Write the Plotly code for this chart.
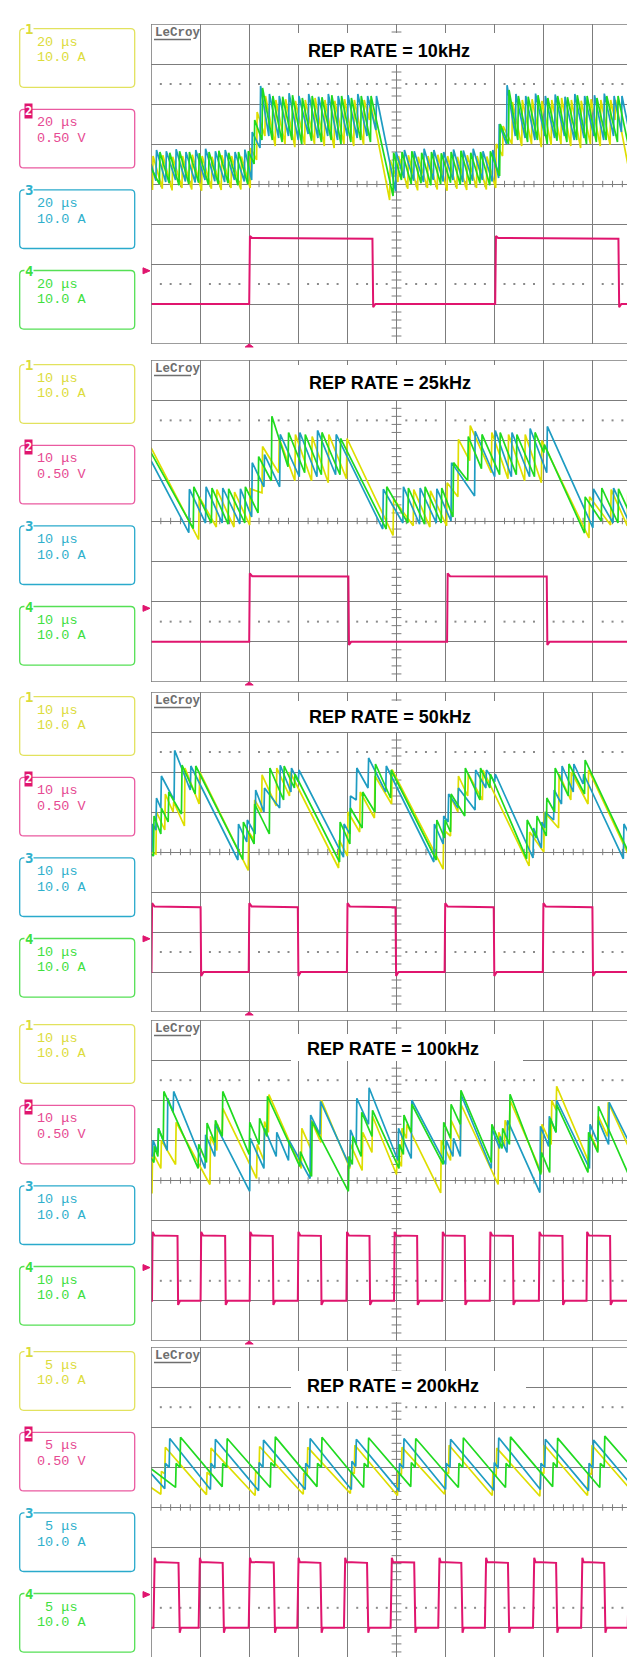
import plotly.graph_objects as go

W, H = 635, 1657

# ---------------- text content ----------------
TITLES = ["REP RATE = 10kHz", "REP RATE = 25kHz", "REP RATE = 50kHz",
          "REP RATE = 100kHz", "REP RATE = 200kHz"]
TIMEBASE = ["20 μs", "10 μs", "10 μs", "10 μs", "\u00a05 μs"]
CH_NAMES = ["1", "2", "3", "4"]
CH_SCALE = ["10.0 A", "0.50 V", "10.0 A", "10.0 A"]

# ---------------- waveform data (divisions) ----------------
# each event: (time_div, level_before_step, level_after_step)

# Panel 1 : 10 kHz, 20 us/div
P1_YEL = [(0.0,0.1,0.1),(0.03,-0.15,0.7),(0.23,-0.12,0.72),(0.43,-0.16,0.68),(0.63,-0.1,0.7),(0.83,-0.14,0.73),
          (1.03,-0.17,0.7),(1.23,-0.12,0.68),(1.43,-0.15,0.72),(1.63,-0.1,0.7),(1.83,-0.14,0.69),(2.02,-0.1,0.9),
          (2.15,0.6,1.8),(2.32,1.2,2.2),(2.53,0.95,2.1),(2.73,1.0,2.12),(2.93,0.92,2.08),(3.13,0.98,2.1),
          (3.33,1.0,2.15),(3.53,0.95,2.1),(3.73,0.9,2.08),(3.93,1.0,2.12),(4.13,0.95,2.1),(4.33,0.98,2.1),
          (4.45,1.6,2.1),(4.86,-0.4,0.6),(5.03,0.05,0.7),(5.23,-0.12,0.72),(5.43,-0.16,0.68),(5.63,-0.1,0.7),
          (5.83,-0.14,0.73),(6.03,-0.17,0.7),(6.23,-0.12,0.68),(6.43,-0.15,0.72),(6.63,-0.1,0.7),(6.83,-0.14,0.69),
          (7.02,-0.1,1.0),(7.16,0.7,1.45),(7.35,1.0,2.05),(7.55,0.95,2.1),(7.75,1.0,2.12),(7.95,0.92,2.08),
          (8.15,0.98,2.1),(8.35,1.0,2.15),(8.55,0.95,2.1),(8.75,0.9,2.08),(8.95,1.0,2.12),(9.15,0.95,2.1),
          (9.35,0.98,2.1),(9.45,1.6,2.1),(9.85,-0.4,0.3),(10.0,0.0,0.0)]
P1_CYN = [(0.0,0.5,0.5),(0.1,0.08,0.85),(0.3,0.05,0.82),(0.5,0.1,0.87),(0.7,0.06,0.8),(0.9,0.04,0.85),
          (1.1,0.1,0.88),(1.3,0.07,0.82),(1.5,0.05,0.85),(1.7,0.1,0.8),(1.9,0.06,0.86),(2.05,0.1,1.3),
          (2.22,0.9,2.45),(2.4,1.2,2.25),(2.6,1.15,2.2),(2.8,1.2,2.27),(3.0,1.1,2.2),(3.2,1.25,2.25),
          (3.4,1.15,2.18),(3.6,1.2,2.25),(3.8,1.1,2.2),(4.0,1.2,2.22),(4.2,1.15,2.25),(4.4,1.2,2.2),
          (4.58,1.35,2.2),(4.98,-0.18,0.8),(5.15,0.15,0.85),(5.35,0.08,0.82),(5.55,0.05,0.88),(5.75,0.1,0.85),
          (5.95,0.06,0.8),(6.15,0.1,0.86),(6.35,0.05,0.84),(6.55,0.08,0.88),(6.75,0.1,0.82),(6.95,0.06,0.85),
          (7.08,0.15,1.5),(7.24,1.0,2.47),(7.42,1.2,2.25),(7.62,1.15,2.2),(7.82,1.1,2.26),(8.02,1.2,2.2),
          (8.22,1.15,2.24),(8.42,1.2,2.18),(8.62,1.1,2.25),(8.82,1.15,2.2),(9.02,1.2,2.22),(9.22,1.1,2.26),
          (9.42,1.2,2.2),(9.58,1.3,2.2),(9.98,-0.15,0.6),(10.0,0.55,0.55)]
P1_GRN = [(0.0,0.4,0.4),(0.17,0.0,0.8),(0.37,0.02,0.78),(0.57,-0.03,0.82),(0.77,0.0,0.8),(0.97,0.03,0.77),
          (1.17,-0.02,0.8),(1.37,0.0,0.83),(1.57,0.02,0.78),(1.77,-0.03,0.8),(1.97,0.0,0.82),(2.1,0.5,1.6),
          (2.26,1.1,2.4),(2.47,1.1,2.2),(2.67,1.05,2.18),(2.87,1.1,2.22),(3.07,1.0,2.15),(3.27,1.08,2.2),
          (3.47,1.05,2.17),(3.67,1.1,2.22),(3.87,1.0,2.2),(4.07,1.05,2.15),(4.27,1.1,2.2),(4.47,1.05,2.2),
          (4.93,-0.3,0.78),(5.1,0.1,0.8),(5.3,0.0,0.82),(5.5,0.02,0.78),(5.7,-0.03,0.8),(5.9,0.0,0.77),
          (6.1,0.03,0.8),(6.3,-0.02,0.83),(6.5,0.0,0.78),(6.7,0.02,0.8),(6.9,-0.03,0.82),(7.1,0.2,1.5),
          (7.28,1.0,2.35),(7.47,1.1,2.2),(7.67,1.05,2.18),(7.87,1.1,2.22),(8.07,1.0,2.15),(8.27,1.08,2.2),
          (8.47,1.05,2.17),(8.67,1.1,2.22),(8.87,1.0,2.2),(9.07,1.05,2.15),(9.27,1.1,2.2),(9.5,1.05,2.2),
          (9.93,-0.25,0.5),(10.0,0.3,0.3)]
P1_MAG = [(0.0,-3.0,-3.0),(2.0,-3.0,-1.3),(2.06,-1.35,-1.35),(4.51,-1.37,-3.08),(4.57,-3.0,-3.0),
          (7.01,-3.0,-1.3),(7.07,-1.35,-1.35),(9.52,-1.37,-3.08),(9.58,-3.0,-3.0),(10.0,-3.0,-3.0)]

# Panel 2 : 25 kHz, 10 us/div
P2_YEL = [(0.0,1.82,1.82),(0.97,-0.46,0.6),(1.33,-0.15,0.78),(1.69,-0.15,0.72),(2.01,-0.1,0.8),(2.26,0.7,1.85),
          (2.6,1.2,2.05),(2.93,1.0,2.15),(3.27,1.0,2.1),(3.61,0.95,2.15),(3.98,1.05,2.05),(4.93,-0.36,0.55),
          (5.34,-0.12,0.78),(5.68,-0.15,0.75),(6.02,-0.12,0.95),(6.25,0.6,2.03),(6.49,1.5,2.37),(6.93,1.2,2.2),
          (7.27,1.05,2.15),(7.61,1.0,2.15),(7.95,0.95,2.0),(8.92,-0.42,0.6),(9.36,-0.1,0.78),(9.7,-0.12,0.75),
          (10.0,-0.13,-0.13)]
P2_CYN = [(0.0,1.5,1.5),(0.77,-0.29,0.79),(1.11,-0.05,0.85),(1.45,-0.05,0.82),(1.81,-0.07,0.8),(2.05,0.1,1.45),
          (2.3,0.85,1.65),(2.62,0.85,2.15),(3.02,1.1,2.2),(3.38,1.1,2.25),(3.76,1.15,2.15),(4.72,-0.2,0.79),
          (5.13,-0.05,0.85),(5.47,-0.08,0.82),(5.81,-0.05,0.8),(6.11,0.0,1.45),(6.59,0.62,2.23),(7.0,1.1,2.25),
          (7.34,1.1,2.2),(7.71,1.1,2.3),(8.06,1.2,2.35),(9.0,-0.17,0.8),(9.41,-0.05,0.82),(9.75,-0.07,0.85),
          (10.0,0.2,0.2)]
P2_GRN = [(0.0,1.7,1.7),(0.86,-0.19,0.85),(1.23,-0.05,0.82),(1.57,-0.08,0.8),(1.91,-0.05,0.85),(2.18,0.2,1.6),
          (2.45,1.0,2.6),(2.79,1.35,2.2),(3.13,1.2,2.15),(3.47,1.15,2.2),(3.85,1.15,2.05),(4.79,-0.2,0.85),
          (5.23,-0.05,0.82),(5.57,-0.08,0.85),(5.91,-0.05,0.82),(6.15,0.1,1.45),(6.45,1.0,2.1),(6.73,1.3,2.15),
          (7.1,1.15,2.2),(7.44,1.15,2.15),(7.81,1.1,2.2),(8.0,1.7,1.9),(8.83,-0.3,0.6),(9.17,0.0,0.82),
          (9.51,-0.05,0.8),(9.85,-0.08,0.82),(10.0,0.5,0.5)]
P2_MAG = [(0.0,-3.0,-3.0),(2.0,-3.0,-1.3),(2.06,-1.37,-1.37),(4.02,-1.38,-3.08),(4.08,-3.0,-3.0),
          (6.03,-3.0,-1.3),(6.09,-1.37,-1.37),(8.06,-1.38,-3.08),(8.12,-3.0,-3.0),(10.0,-3.0,-3.0)]

# Panel 3 : 50 kHz, 10 us/div
P3_YEL = [(0.0,0.0,0.0),(0.1,-0.05,1.0),(0.28,0.55,1.45),(0.45,1.0,1.25),(0.68,0.65,2.1),(0.98,1.2,2.0),
          (1.98,-0.46,0.5),(2.1,0.3,1.3),(2.25,1.0,1.93),(2.55,1.15,2.1),(2.82,1.4,2.0),(3.82,-0.4,0.3),
          (4.0,-0.1,1.0),(4.25,0.5,1.5),(4.55,0.85,1.9),(4.9,1.2,2.06),(5.95,-0.43,0.55),(6.1,0.4,1.35),
          (6.25,1.0,1.9),(6.45,1.4,1.95),(6.75,1.3,2.05),(7.7,-0.35,0.5),(8.0,0.0,1.0),(8.3,0.6,1.95),
          (8.55,1.3,2.0),(8.9,1.2,2.05),(9.85,-0.4,0.6),(10.0,0.3,0.3)]
P3_CYN = [(0.0,0.05,0.05),(0.02,0.0,0.7),(0.1,0.55,1.35),(0.2,1.1,1.9),(0.47,1.3,2.54),(0.8,1.55,2.15),
          (1.77,-0.2,0.7),(1.95,0.25,0.8),(2.12,0.45,1.55),(2.3,1.0,1.6),(2.62,1.1,2.17),(2.85,1.5,2.1),
          (3.0,1.75,2.05),(3.92,-0.13,0.7),(4.05,0.45,1.4),(4.18,1.3,2.1),(4.42,1.6,2.35),(4.78,1.5,2.15),
          (5.76,-0.25,0.7),(5.95,0.2,0.9),(6.05,0.75,1.45),(6.25,1.1,1.6),(6.6,1.05,2.05),(6.82,1.6,2.05),
          (7.0,1.75,1.95),(7.78,-0.15,0.6),(7.95,0.1,0.75),(8.02,0.6,1.0),(8.2,0.8,1.55),(8.36,1.2,2.15),
          (8.6,1.5,2.2),(8.8,1.7,1.95),(9.62,-0.17,0.7),(9.8,0.3,0.75),(10.0,0.35,0.35)]
P3_GRN = [(0.0,-0.05,-0.05),(0.05,-0.1,0.9),(0.2,0.45,1.1),(0.35,0.75,1.5),(0.62,0.95,2.17),(0.9,1.45,2.15),
          (1.87,-0.19,0.75),(2.1,0.2,1.2),(2.41,0.45,2.1),(2.7,1.3,2.15),(2.92,1.6,1.95),(3.84,-0.25,0.75),
          (4.05,0.2,1.1),(4.3,0.6,1.5),(4.56,1.0,2.2),(4.88,1.35,2.05),(5.81,-0.2,0.8),(5.98,0.35,0.8),
          (6.1,0.5,1.45),(6.39,0.9,2.1),(6.7,1.3,2.1),(6.9,1.6,1.95),(7.65,-0.17,0.8),(7.85,0.35,0.9),
          (8.05,0.4,1.35),(8.22,1.0,2.1),(8.5,1.4,2.2),(8.83,1.45,2.3),(9.78,-0.15,0.85),(10.0,0.25,0.25)]
P3_MAG = [(0.0,-3.0,-3.0),(0.01,-3.0,-1.28),(0.07,-1.36,-1.36),(1.01,-1.38,-3.1),(1.07,-3.0,-3.0),
          (1.99,-3.0,-1.28),(2.05,-1.36,-1.36),(2.99,-1.38,-3.1),(3.05,-3.0,-3.0),(3.99,-3.0,-1.28),
          (4.05,-1.36,-1.36),(4.98,-1.38,-3.1),(5.04,-3.0,-3.0),(5.98,-3.0,-1.28),(6.04,-1.36,-1.36),
          (6.98,-1.38,-3.1),(7.04,-3.0,-3.0),(7.98,-3.0,-1.28),(8.04,-1.36,-1.36),(8.99,-1.38,-3.1),
          (9.05,-3.0,-3.0),(9.97,-3.0,-1.28),(10.0,-1.33,-1.33)]

# Panel 4 : 100 kHz, 10 us/div
P4_YEL = [(0.0,-0.3,-0.3),(0.02,-0.3,0.7),(0.2,0.3,1.0),(0.5,0.4,1.45),(1.2,-0.1,1.1),(1.34,0.75,1.4),
          (1.45,1.1,1.8),(2.15,0.05,0.9),(2.3,0.5,1.47),(2.39,1.2,2.14),(3.06,0.3,1.3),(3.25,0.8,1.5),
          (3.46,0.95,2.0),(4.05,0.3,0.9),(4.3,0.25,1.2),(4.5,0.7,1.6),(5.0,0.15,0.6),(5.1,0.35,1.3),
          (5.2,1.05,1.4),(5.9,-0.31,1.0),(6.1,0.5,1.5),(6.3,1.0,1.9),(7.07,-0.1,1.2),(7.2,0.85,1.5),
          (7.3,1.25,2.0),(7.95,0.2,1.4),(8.15,0.9,2.0),(8.25,1.75,2.35),(8.92,0.45,1.2),(9.1,0.75,1.6),
          (9.3,1.1,1.95),(10.0,0.1,0.1)]
P4_CYN = [(0.0,0.64,0.64),(0.03,0.6,1.0),(0.14,0.7,1.3),(0.33,0.75,2.05),(0.45,1.7,2.22),(1.1,0.3,1.14),
          (1.3,0.6,1.4),(2.01,-0.27,1.05),(2.3,0.3,1.3),(2.55,0.6,1.2),(2.8,0.5,1.0),(3.24,0.05,1.63),
          (3.44,1.15,1.97),(4.05,0.35,1.26),(4.18,0.9,2.05),(4.43,1.4,2.31),(5.03,0.5,1.3),(5.3,0.55,2.0),
          (6.0,0.4,1.0),(6.15,0.6,1.05),(6.3,0.6,2.15),(6.93,0.3,1.3),(7.1,0.8,1.1),(7.25,0.7,1.5),
          (7.92,-0.3,1.35),(8.1,0.85,1.6),(8.25,1.2,2.0),(8.93,0.3,1.4),(9.1,0.95,1.5),(9.32,0.9,1.95),
          (10.0,0.3,0.3)]
P4_GRN = [(0.0,0.56,0.56),(0.06,0.45,0.85),(0.14,0.6,1.3),(0.25,1.0,2.22),(0.96,0.3,0.9),(1.13,0.45,1.43),
          (1.3,0.95,1.5),(1.45,1.1,2.22),(2.0,0.65,1.45),(2.2,0.9,1.55),(2.36,1.1,2.1),(3.03,0.35,0.72),
          (3.27,0.1,1.47),(4.02,-0.27,0.6),(4.1,0.4,1.1),(4.28,0.6,1.7),(4.5,1.1,1.75),(5.05,0.3,0.9),
          (5.14,0.65,1.63),(5.3,1.2,1.9),(5.95,0.4,1.45),(6.1,1.05,1.9),(6.3,1.4,2.25),(6.93,0.45,1.4),
          (7.15,0.8,1.3),(7.3,0.9,2.15),(7.94,0.15,0.7),(8.12,0.2,1.55),(8.25,1.2,1.89),(8.9,0.2,1.2),
          (9.1,0.7,1.85),(9.85,-0.2,0.8),(9.95,0.55,1.4),(10.0,1.3,1.3)]
P4_MAG = [(0.0,-3.0,-3.0),(0.02,-3.0,-1.28),(0.07,-1.37,-1.37),(0.54,-1.38,-3.1),(0.59,-3.0,-3.0),
          (1.01,-3.0,-1.28),(1.06,-1.37,-1.37),(1.51,-1.38,-3.1),(1.56,-3.0,-3.0),(2.01,-3.0,-1.28),
          (2.06,-1.37,-1.37),(2.48,-1.38,-3.1),(2.53,-3.0,-3.0),(2.99,-3.0,-1.28),(3.04,-1.37,-1.37),
          (3.46,-1.38,-3.1),(3.51,-3.0,-3.0),(3.98,-3.0,-1.28),(4.03,-1.37,-1.37),(4.45,-1.38,-3.1),
          (4.5,-3.0,-3.0),(4.95,-3.0,-1.28),(5.0,-1.37,-1.37),(5.42,-1.38,-3.1),(5.47,-3.0,-3.0),
          (5.93,-3.0,-1.28),(5.98,-1.37,-1.37),(6.39,-1.38,-3.1),(6.44,-3.0,-3.0),(6.9,-3.0,-1.28),
          (6.95,-1.37,-1.37),(7.37,-1.38,-3.1),(7.42,-3.0,-3.0),(7.9,-3.0,-1.28),(7.95,-1.37,-1.37),
          (8.38,-1.38,-3.1),(8.43,-3.0,-3.0),(8.87,-3.0,-1.28),(8.92,-1.37,-1.37),(9.35,-1.38,-3.1),
          (9.4,-3.0,-3.0),(9.85,-3.0,-1.28),(9.9,-1.37,-1.37),(10.0,-1.37,-1.37)]

# Panel 5 : 200 kHz, 5 us/div
P5_YEL = [(0.0,0.5,0.5),(0.2,0.33,0.9),(0.28,0.84,1.5),(1.13,0.32,0.88),(1.21,0.8,1.48),(2.12,0.3,0.9),
          (2.2,0.83,1.52),(3.1,0.33,0.86),(3.18,0.8,1.5),(4.06,0.35,0.9),(4.14,0.84,1.55),(5.02,0.3,0.88),
          (5.1,0.82,1.5),(5.98,0.33,0.9),(6.06,0.84,1.55),(6.95,0.3,0.85),(7.03,0.8,1.48),(7.92,0.28,0.9),
          (8.0,0.84,1.55),(8.89,0.3,0.88),(8.97,0.82,1.55),(9.85,0.33,0.9),(9.93,0.84,1.5),(10.0,1.45,1.45)]
P5_CYN = [(0.0,0.85,0.85),(0.28,0.47,1.1),(0.37,1.0,1.72),(1.21,0.45,1.1),(1.3,0.98,1.7),(2.19,0.42,1.12),
          (2.28,1.0,1.68),(3.14,0.45,1.1),(3.23,0.98,1.72),(4.08,0.45,1.15),(4.17,1.02,1.7),(5.05,0.42,1.1),
          (5.14,0.98,1.72),(6.0,0.45,1.1),(6.09,1.0,1.7),(6.98,0.43,1.12),(7.07,0.98,1.74),(7.93,0.45,1.1),
          (8.02,1.0,1.7),(8.91,0.42,1.1),(9.0,0.98,1.68),(9.86,0.45,1.1),(9.95,1.0,1.62),(10.0,1.55,1.55)]
P5_GRN = [(0.0,0.97,0.97),(0.5,0.5,1.1),(0.59,1.0,1.75),(1.45,0.52,1.1),(1.54,1.0,1.72),(2.43,0.5,1.12),
          (2.52,1.02,1.76),(3.38,0.52,1.1),(3.47,1.0,1.75),(4.33,0.5,1.1),(4.42,1.0,1.74),(5.29,0.52,1.12),
          (5.38,1.0,1.72),(6.26,0.5,1.1),(6.35,1.0,1.74),(7.22,0.5,1.1),(7.31,1.0,1.76),(8.18,0.52,1.12),
          (8.27,1.0,1.73),(9.14,0.5,1.1),(9.23,1.0,1.78),(10.0,0.72,0.72)]
P5_MAG = [(0.0,-3.0,-3.0),(0.05,-3.0,-1.25),(0.1,-1.36,-1.36),(0.56,-1.38,-3.12),(0.61,-3.0,-3.0),
          (0.97,-3.0,-1.25),(1.02,-1.36,-1.36),(1.46,-1.38,-3.12),(1.51,-3.0,-3.0),(1.99,-3.0,-1.25),
          (2.04,-1.36,-1.36),(2.5,-1.37,-3.12),(2.55,-3.0,-3.0),(2.98,-3.0,-1.25),(3.03,-1.36,-1.36),
          (3.45,-1.38,-3.12),(3.5,-3.0,-3.0),(3.93,-3.0,-1.25),(3.98,-1.36,-1.36),(4.4,-1.38,-3.12),
          (4.45,-3.0,-3.0),(4.88,-3.0,-1.25),(4.93,-1.36,-1.36),(5.36,-1.37,-3.12),(5.41,-3.0,-3.0),
          (5.85,-3.0,-1.25),(5.9,-1.36,-1.36),(6.32,-1.38,-3.12),(6.37,-3.0,-3.0),(6.8,-3.0,-1.25),
          (6.85,-1.36,-1.36),(7.27,-1.38,-3.12),(7.32,-3.0,-3.0),(7.78,-3.0,-1.25),(7.83,-1.36,-1.36),
          (8.25,-1.38,-3.12),(8.3,-3.0,-3.0),(8.76,-3.0,-1.25),(8.81,-1.36,-1.36),(9.23,-1.38,-3.12),
          (9.28,-3.0,-3.0),(9.71,-3.0,-1.25),(9.76,-1.36,-1.36),(10.0,-1.37,-1.37)]

WAVES = [(P1_YEL, P1_MAG, P1_CYN, P1_GRN), (P2_YEL, P2_MAG, P2_CYN, P2_GRN),
         (P3_YEL, P3_MAG, P3_CYN, P3_GRN), (P4_YEL, P4_MAG, P4_CYN, P4_GRN),
         (P5_YEL, P5_MAG, P5_CYN, P5_GRN)]

# ---------------- style / geometry ----------------
C_TRACE = ["#dede00", "#e0156e", "#1e9cc2", "#20da20"]
C_TEXT = ["#dcdc3c", "#e64a92", "#2fb0cc", "#3fe03f"]
C_BOX = ["#e2e25e", "#ea5aa0", "#2aaacc", "#55e055"]
GRID = "#7c7c7c"
STEP = [0.015, 0.012, 0.012, 0.012, 0.025]

PANELS = [(16, 336), (352, 674), (684, 1004), (1012, 1333), (1339, 1660)]
X0, X1 = 143, 634
TBOX = [(283, 25, 505, 56, 298, 42.7), (290, 357, 487, 392, 299, 375),
        (285, 693, 499, 724, 299, 709.3), (283, 1026, 515, 1053, 297, 1041),
        (283, 1363, 518, 1394, 297, 1378)]


def px(x):
    return x / W


def py(y):
    return 1 - y / H


def build(events, dx):
    xs, ys = [], []
    for t, lo, hi in events:
        xs.append(t)
        ys.append(lo)
        if hi != lo:
            xs.append(t + dx)
            ys.append(hi)
    return xs, ys


def rrect(x0, y0, x1, y1, r):
    return (f"M {px(x0+r)},{py(y0)} L {px(x1-r)},{py(y0)} Q {px(x1)},{py(y0)} {px(x1)},{py(y0+r)} "
            f"L {px(x1)},{py(y1-r)} Q {px(x1)},{py(y1)} {px(x1-r)},{py(y1)} "
            f"L {px(x0+r)},{py(y1)} Q {px(x0)},{py(y1)} {px(x0)},{py(y1-r)} "
            f"L {px(x0)},{py(y0+r)} Q {px(x0)},{py(y0)} {px(x0+r)},{py(y0)} Z")


fig = go.Figure()
layout = dict(width=W, height=H, margin=dict(l=0, r=0, t=0, b=0),
              paper_bgcolor="white", plot_bgcolor="white", showlegend=False)
shapes, annotations = [], []

# center-axis minor ticks and dotted reference rows (graticule decoration)
tick_x, tick_y = [], []
for k in range(1, 50):
    if k % 5:
        tick_x += [k * 0.2, k * 0.2, None]
        tick_y += [-0.08, 0.08, None]
for k in range(-19, 20):
    if k % 5:
        tick_x += [4.9, 5.1, None]
        tick_y += [k * 0.2, k * 0.2, None]
dot_x, dot_y = [], []
for k in range(10):
    for j in range(1, 5):
        for yy in (2.5, -2.5):
            dot_x.append(k + j * 0.2)
            dot_y.append(yy)

for i, (top, bot) in enumerate(PANELS):
    n = i + 1
    xs_ = "" if n == 1 else str(n)
    xref, yref = "x" + xs_, "y" + xs_
    divy = (bot - top) / 8.0
    ybot = min(bot, H)
    ylo = 4 - (ybot - top) / divy
    axcommon = dict(showgrid=True, gridcolor=GRID, gridwidth=1.1, dtick=1, tick0=0, zeroline=False,
                    showticklabels=False, ticks="", showline=False, fixedrange=True)
    layout["xaxis" + xs_] = dict(domain=[px(X0), px(X1)], range=[0, 10], anchor=yref, **axcommon)
    layout["yaxis" + xs_] = dict(domain=[py(ybot), py(top)], range=[ylo, 4], anchor=xref, **axcommon)

    fig.add_trace(go.Scatter(x=tick_x, y=tick_y, mode="lines", line=dict(color=GRID, width=1),
                             xaxis=xref, yaxis=yref, hoverinfo="skip"))
    fig.add_trace(go.Scatter(x=dot_x, y=dot_y, mode="markers",
                             marker=dict(color="#8a8a8a", size=2, symbol="square"),
                             xaxis=xref, yaxis=yref, hoverinfo="skip"))
    yel, mag, cyn, grn = WAVES[i]
    for ev, col, wd in ((yel, C_TRACE[0], 1.7), (mag, C_TRACE[1], 2.0),
                        (cyn, C_TRACE[2], 1.7), (grn, C_TRACE[3], 1.7)):
        xx, yy = build(ev, STEP[i] if ev is mag else 0.012)
        fig.add_trace(go.Scatter(x=xx, y=yy, mode="lines", line=dict(color=col, width=wd),
                                 xaxis=xref, yaxis=yref, hoverinfo="skip"))

    # frame
    shapes.append(dict(type="rect", xref=xref, yref=yref, x0=0, x1=10, y0=-4, y1=4,
                       line=dict(color=GRID, width=1.6), layer="above"))
    # title box
    bx0, by0, bx1, by1, tx, ty = TBOX[i]
    shapes.append(dict(type="rect", xref="paper", yref="paper", x0=px(bx0), x1=px(bx1),
                       y0=py(by1), y1=py(by0), fillcolor="white", line=dict(width=0), layer="above"))
    annotations.append(dict(text="<b>%s</b>" % TITLES[i], xref="paper", yref="paper", x=px(tx), y=py(ty),
                            xanchor="left", yanchor="middle", showarrow=False,
                            font=dict(family="Liberation Sans", size=18, color="black")))
    # LeCroy label
    annotations.append(dict(text="<b>LeCroy</b>", xref="paper", yref="paper", x=px(145), y=py(top + 9),
                            xanchor="left", yanchor="middle", showarrow=False,
                            font=dict(family="Liberation Mono", size=12.5, color="#6e6e6e")))
    shapes.append(dict(type="line", xref="paper", yref="paper", x0=px(146), x1=px(183),
                       y0=py(top + 15.5), y1=py(top + 15.5), line=dict(color="#6e6e6e", width=1.6)))

    # channel boxes
    for k in range(4):
        bt = top + 4.7 + 80.6 * k
        shapes.append(dict(type="path", xref="paper", yref="paper",
                           path=rrect(11.7, bt, 126.7, bt + 58.6, 4),
                           line=dict(color=C_BOX[k], width=1.3)))
        annotations.append(dict(text=TIMEBASE[i], xref="paper", yref="paper", x=px(26.7), y=py(bt + 13.6),
                                xanchor="left", yanchor="middle", showarrow=False,
                                font=dict(family="Liberation Mono", size=13.5, color=C_TEXT[k])))
        annotations.append(dict(text=CH_SCALE[k], xref="paper", yref="paper", x=px(26.7), y=py(bt + 29.2),
                                xanchor="left", yanchor="middle", showarrow=False,
                                font=dict(family="Liberation Mono", size=13.5, color=C_TEXT[k])))
        if k == 1:
            annotations.append(dict(text="<b>%s</b>" % CH_NAMES[k], xref="paper", yref="paper",
                                    x=px(20.8), y=py(bt + 1.5), xanchor="center", yanchor="middle",
                                    showarrow=False, bgcolor=C_TRACE[1], borderpad=0,
                                    font=dict(family="DejaVu Sans Mono", size=12, color="white")))
        else:
            annotations.append(dict(text="<b>%s</b>" % CH_NAMES[k], xref="paper", yref="paper",
                                    x=px(20.5), y=py(bt + 0.5), xanchor="center", yanchor="middle",
                                    showarrow=False, bgcolor="white", borderpad=0,
                                    font=dict(family="DejaVu Sans Mono", size=14, color=C_TEXT[k])))

    # channel-2 ground marker on the left
    cy = (top + bot) / 2 + 2.17 * divy
    shapes.append(dict(type="path", xref="paper", yref="paper",
                       path=f"M {px(135)},{py(cy-3)} L {px(142)},{py(cy)} L {px(135)},{py(cy+3)} Z",
                       fillcolor=C_TRACE[1], line=dict(color=C_TRACE[1], width=1)))
    # trigger marker at the bottom
    if bot < H:
        tx0 = X0 + 2.0 * (X1 - X0) / 10
        shapes.append(dict(type="path", xref="paper", yref="paper",
                           path=f"M {px(tx0-4)},{py(bot+3)} L {px(tx0+4)},{py(bot+3)} L {px(tx0)},{py(bot)} Z",
                           fillcolor=C_TRACE[1], line=dict(color=C_TRACE[1], width=1)))

layout["shapes"] = shapes
layout["annotations"] = annotations
fig.update_layout(**layout)
fig.write_html("out.html")
